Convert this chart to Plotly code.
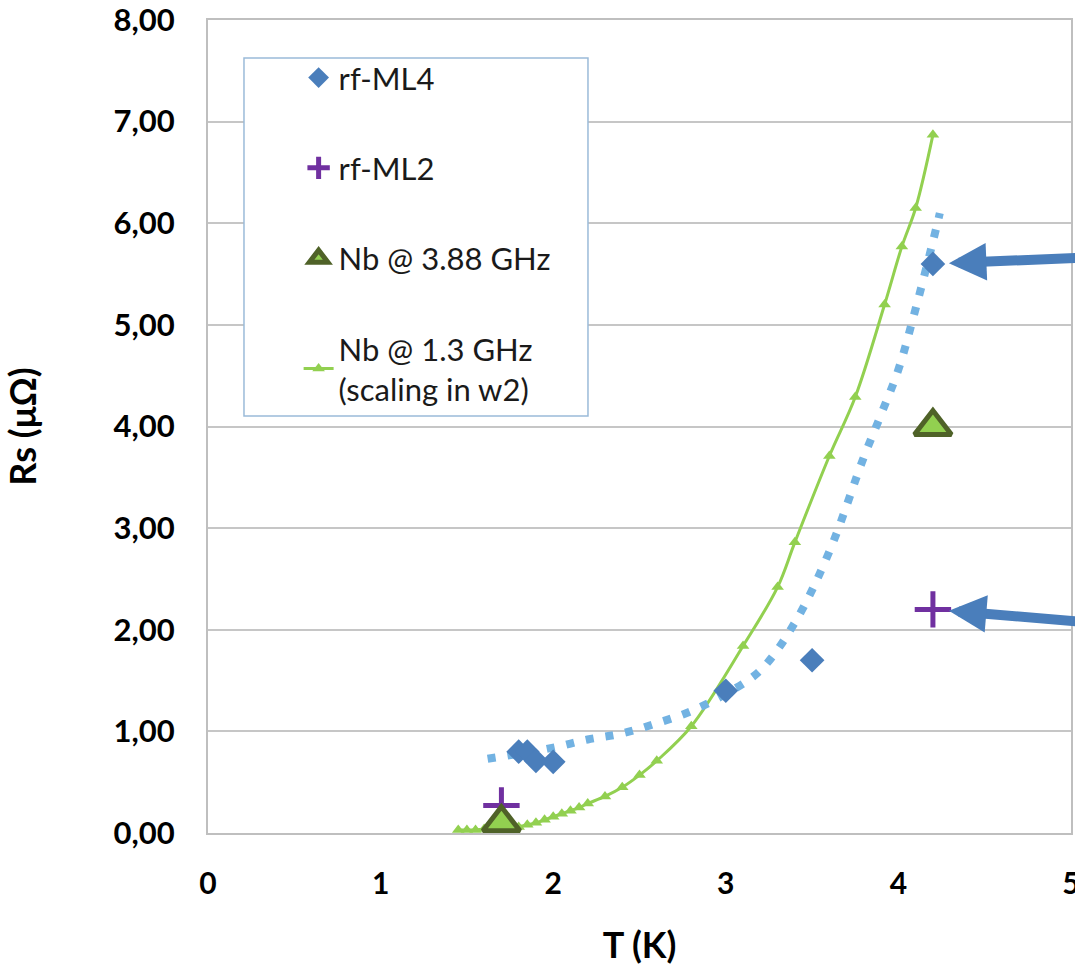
import plotly.graph_objects as go

# ---- data ----
ml4_T = [1.80, 1.85, 1.90, 2.00, 3.00, 3.50, 4.20]
ml4_Rs = [0.80, 0.80, 0.71, 0.70, 1.40, 1.70, 5.60]

ml2_T = [1.70, 4.20]
ml2_Rs = [0.27, 2.20]

nb388_T = [1.70, 4.20]
nb388_Rs = [0.10, 4.00]

nb13_T = [1.45, 1.50, 1.55, 1.60, 1.65, 1.70, 1.75, 1.80, 1.85, 1.90, 1.95, 2.00,
          2.05, 2.10, 2.15, 2.20, 2.30, 2.40, 2.50, 2.60, 2.80, 3.10, 3.30, 3.40,
          3.60, 3.75, 3.92, 4.02, 4.10, 4.20]
nb13_Rs = [0.03, 0.03, 0.03, 0.04, 0.04, 0.04, 0.05, 0.06, 0.08, 0.10, 0.13, 0.16,
           0.19, 0.22, 0.25, 0.29, 0.36, 0.45, 0.57, 0.71, 1.05, 1.84, 2.42, 2.86,
           3.71, 4.29, 5.20, 5.77, 6.15, 6.87]

trend_T = [1.62, 1.80, 2.00, 2.20, 2.40, 2.60, 2.80, 3.00, 3.20, 3.40, 3.60, 3.80,
           3.90, 4.00, 4.10, 4.20, 4.24]
trend_Rs = [0.73, 0.78, 0.84, 0.92, 0.98, 1.08, 1.20, 1.37, 1.60, 2.07, 2.77, 3.70,
            4.12, 4.56, 5.16, 5.82, 6.10]

x_ticks = [0, 1, 2, 3, 4, 5]
y_ticks = [0, 1, 2, 3, 4, 5, 6, 7, 8]

FONT = "Lato"
BLUE = "#4a7ebb"
GREEN = "#92d050"

fig = go.Figure()

fig.add_trace(go.Scatter(
    x=nb13_T, y=nb13_Rs, mode="lines+markers", name="Nb @ 1.3 GHz<br>(scaling in w2)",
    line=dict(color=GREEN, width=3, shape="spline"),
    marker=dict(symbol="triangle-up", size=11, color=GREEN),
    legendgroup="d", legendrank=4))

fig.add_trace(go.Scatter(
    x=trend_T, y=trend_Rs, mode="lines", showlegend=False,
    line=dict(color="#72b2e2", width=8, dash="8px,12px", shape="spline")))

fig.add_trace(go.Scatter(
    x=ml4_T, y=ml4_Rs, mode="markers", name="rf-ML4",
    marker=dict(symbol="diamond", size=19, color=BLUE),
    legendgroup="a", legendrank=1))

fig.add_trace(go.Scatter(
    x=ml2_T, y=ml2_Rs, mode="markers", name="rf-ML2",
    marker=dict(symbol="cross-thin", size=26, color="#7030a0",
                line=dict(color="#7030a0", width=5)),
    legendgroup="b", legendrank=2))

fig.add_trace(go.Scatter(
    x=nb388_T, y=nb388_Rs, mode="markers", name="Nb @ 3.88 GHz",
    marker=dict(symbol="triangle-up", size=32, color=GREEN,
                line=dict(color="#4f6228", width=5)),
    legendgroup="c", legendrank=3))

# arrows pointing at the 4.2 K points
for (xp, yp, ay) in [(ml4_T[-1], ml4_Rs[-1], 5.66), (ml2_T[-1], ml2_Rs[-1], 2.08)]:
    fig.add_annotation(x=xp, y=yp, ax=5.05, ay=ay, xref="x", yref="y",
                       axref="x", ayref="y", text="", showarrow=True,
                       arrowhead=2, arrowsize=0.75, arrowwidth=10,
                       arrowcolor=BLUE, standoff=16)

# legend box
fig.add_shape(type="rect", xref="paper", yref="paper",
              x0=0.0417, x1=0.4403, y0=0.5129, y1=0.9533,
              line=dict(color="#9bbbd9", width=1.5), fillcolor="white", layer="above")

fig.update_layout(
    width=1075, height=968,
    margin=dict(l=208, r=4, t=20, b=135, autoexpand=False),
    paper_bgcolor="white", plot_bgcolor="white",
    separators=", ",
    font=dict(family=FONT, color="black"),
    showlegend=True,
    legend=dict(x=0.105, y=0.962, xanchor="left", yanchor="top",
                bgcolor="rgba(0,0,0,0)", borderwidth=0,
                font=dict(family=FONT, size=31, color="#1a1a1a"),
                tracegroupgap=47, itemsizing="trace"),
    xaxis=dict(range=[0, 5], tickvals=x_ticks, ticktext=[str(v) for v in x_ticks],
               showgrid=False, zeroline=False, ticklabeloverflow="allow", automargin=False,
               showline=True, linecolor="#bfbfbf", linewidth=2, mirror=True,
               ticks="outside", ticklen=23, tickcolor="rgba(0,0,0,0)",
               tickfont=dict(family=FONT, size=30, weight="bold"),
               title=dict(text="T (K)", standoff=34,
                          font=dict(family=FONT, size=36, weight="bold"))),
    yaxis=dict(range=[0, 8], tickvals=y_ticks, tickformat=".2f",
               ticklabeloverflow="allow", automargin=False,
               showgrid=True, gridcolor="#c6c6c6", gridwidth=2, zeroline=False,
               showline=True, linecolor="#bfbfbf", linewidth=2, mirror=True,
               ticks="outside", ticklen=25, tickcolor="rgba(0,0,0,0)",
               tickfont=dict(family=FONT, size=31, weight="bold"),
               title=dict(text="Rs (μΩ)", standoff=66,
                          font=dict(family=FONT, size=36, weight="bold"))),
)

fig.write_html("out.html")
